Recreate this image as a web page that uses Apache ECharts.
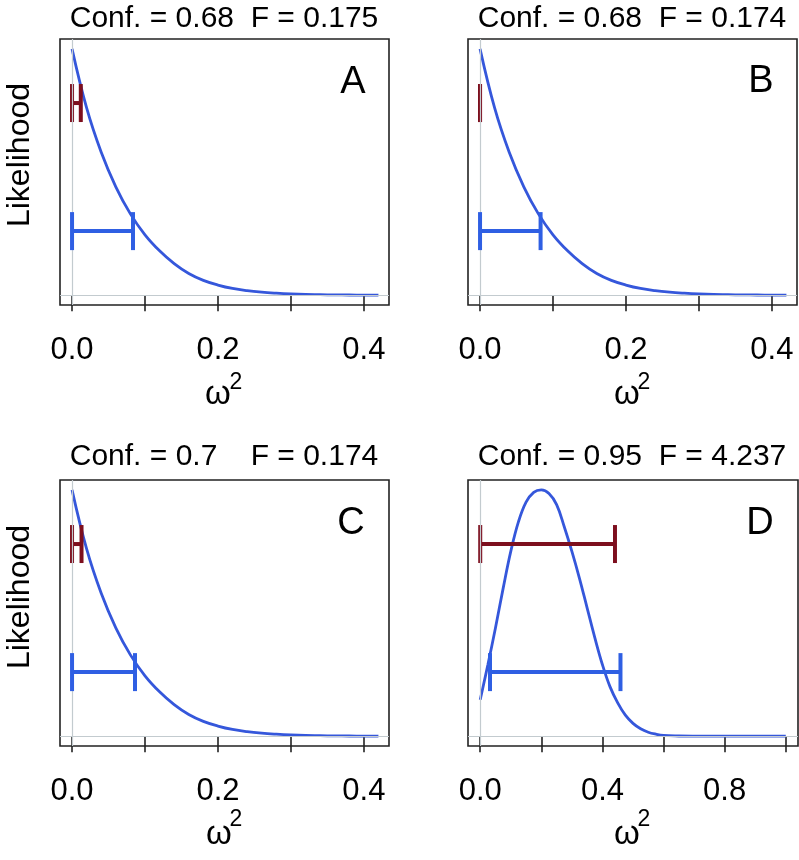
<!DOCTYPE html>
<html>
<head>
<meta charset="utf-8">
<script src="https://cdn.jsdelivr.net/npm/echarts@6/dist/echarts.min.js"></script>
<style>
html,body{margin:0;padding:0;background:#fff;}
#chart{width:799px;height:860px;}
</style>
</head>
<body>
<div id="chart"></div>
<script>
// ---- data ----
// x grid (omega^2) for panels A-C
const omegaSmall = [0,0.02,0.04,0.06,0.08,0.10,0.12,0.14,0.16,0.18,0.20,0.22,0.24,0.26,0.28,0.30,0.32,0.34,0.36,0.38,0.40,0.42];
// relative likelihood, panels A, B, C (visually identical curves)
const likeA = [1.0,0.76,0.58,0.44,0.33,0.245,0.18,0.128,0.088,0.060,0.041,0.027,0.018,0.012,0.008,0.005,0.003,0.002,0.001,0.0006,0.0003,0.0001];
const likeB = [1.0,0.76,0.58,0.44,0.33,0.245,0.18,0.128,0.088,0.060,0.041,0.027,0.018,0.012,0.008,0.005,0.003,0.002,0.001,0.0006,0.0003,0.0001];
const likeC = [1.0,0.76,0.58,0.44,0.33,0.245,0.18,0.128,0.088,0.060,0.041,0.027,0.018,0.012,0.008,0.005,0.003,0.002,0.001,0.0006,0.0003,0.0001];
// panel D
const omegaD = [0,0.025,0.05,0.075,0.1,0.125,0.15,0.175,0.2,0.225,0.25,0.275,0.3,0.325,0.35,0.375,0.4,0.425,0.45,0.475,0.5,0.525,0.55,0.575,0.6,0.65,0.7,0.8,0.9,1.0];
const likeD = [0.148,0.29,0.44,0.60,0.75,0.87,0.95,0.99,1.0,0.985,0.94,0.85,0.75,0.64,0.52,0.40,0.29,0.20,0.135,0.085,0.052,0.03,0.016,0.008,0.003,0.0007,0.0001,0,0,0];

// intervals: [low, high, height]
const redBars  = { A: [0, 0.012, 0.78], B: [0, 0, 0.78], C: [0, 0.013, 0.78], D: [0, 0.441, 0.78] };
const blueBars = { A: [0, 0.0836, 0.26], B: [0, 0.083, 0.26], C: [0, 0.0863, 0.26], D: [0.032, 0.459, 0.26] };

const titles = {
  A: 'Conf. = 0.68  F = 0.175',
  B: 'Conf. = 0.68  F = 0.174',
  C: 'Conf. = 0.7    F = 0.174',
  D: 'Conf. = 0.95  F = 4.237'
};
const ticksSmall = [0, 0.1, 0.2, 0.3, 0.4];
const labelsSmall = [0, 0.2, 0.4];
const ticksD = [0, 0.2, 0.4, 0.6, 0.8, 1.0];
const labelsD = [0, 0.4, 0.8];

// ---- chart ----
const FONT = "'Liberation Sans', Arial, Helvetica, sans-serif";
const RED = '#7d0f1e';
const BLUE = '#2f5fe3';
const CURVE = '#3557db';
const GRAY = '#c3cbcf';

const panels = ['A','B','C','D'];
const gridPos = {
  A: {left: 60, top: 39, width: 329, height: 266},
  B: {left: 468, top: 39, width: 329, height: 266},
  C: {left: 60, top: 480, width: 329, height: 266},
  D: {left: 468, top: 480, width: 330, height: 266}
};
const curves = {
  A: omegaSmall.map((x, i) => [x, likeA[i]]),
  B: omegaSmall.map((x, i) => [x, likeB[i]]),
  C: omegaSmall.map((x, i) => [x, likeC[i]]),
  D: omegaD.map((x, i) => [x, likeD[i]])
};

function barRenderer(color) {
  return function (params, api) {
    const y = api.value(2);
    const p1 = api.coord([api.value(0), y]);
    const p2 = api.coord([api.value(1), y]);
    const h = 19;
    const style = {stroke: color, lineWidth: 4, lineCap: 'butt'};
    return {type: 'group', children: [
      {type: 'line', shape: {x1: p1[0], y1: p1[1], x2: p2[0], y2: p2[1]}, style: style},
      {type: 'line', shape: {x1: p1[0], y1: p1[1] - h, x2: p1[0], y2: p1[1] + h}, style: style},
      {type: 'line', shape: {x1: p2[0], y1: p2[1] - h, x2: p2[0], y2: p2[1] + h}, style: style}
    ]};
  };
}

const grid = [], xAxis = [], yAxis = [], series = [];
panels.forEach((p, i) => {
  grid.push(Object.assign({show: true, borderColor: '#222', borderWidth: 1.6, backgroundColor: 'transparent'}, gridPos[p]));
  const isD = p === 'D';
  xAxis.push({
    type: 'value', gridIndex: i,
    min: isD ? -0.04 : -0.0165, max: isD ? 1.04 : 0.4345,
    splitLine: {show: false},
    axisLine: {show: false},
    axisTick: {show: true, inside: false, length: 16, customValues: isD ? ticksD : ticksSmall, lineStyle: {color: '#222', width: 1.6}},
    axisLabel: {show: true, customValues: isD ? labelsD : labelsSmall, margin: 30, fontSize: 31, color: '#000', fontFamily: FONT,
      formatter: v => Number(v).toFixed(1)}
  });
  yAxis.push({type: 'value', gridIndex: i, min: -0.04, max: 1.04, show: false, splitLine: {show: false}});
  series.push({
    type: 'line', xAxisIndex: i, yAxisIndex: i, data: curves[p], showSymbol: false, symbol: 'none',
    smooth: 0.4, lineStyle: {color: CURVE, width: 2.8}, z: 2, silent: true
  });
  series.push({
    type: 'custom', xAxisIndex: i, yAxisIndex: i, data: [redBars[p]],
    encode: {x: [0, 1], y: 2}, renderItem: barRenderer(RED), z: 3, silent: true
  });
  series.push({
    type: 'line', xAxisIndex: i, yAxisIndex: i, data: [], z: 4, silent: true,
    markLine: {silent: true, symbol: ['none', 'none'], label: {show: false},
      lineStyle: {color: GRAY, width: 1.2, type: 'solid'},
      emphasis: {disabled: true},
      data: [{xAxis: 0}, {yAxis: 0}]}
  });
  series.push({
    type: 'custom', xAxisIndex: i, yAxisIndex: i, data: [blueBars[p]],
    encode: {x: [0, 1], y: 2}, renderItem: barRenderer(BLUE), z: 5, silent: true
  });
});

const textBase = {fontFamily: FONT, fill: '#000', align: 'center', verticalAlign: 'middle'};
function txt(x, y, text, size, extra) {
  return Object.assign({type: 'text', x: x, y: y, style: Object.assign({}, textBase, {text: text, fontSize: size})}, extra || {});
}
const graphic = [
  txt(224, 19, titles.A, 30), txt(632, 19, titles.B, 30),
  txt(224, 457, titles.C, 30), txt(632, 457, titles.D, 30),
  txt(353, 83, 'A', 38), txt(761, 82, 'B', 38),
  txt(351, 524, 'C', 38), txt(760, 524, 'D', 38),
  txt(218, 395, 'ω', 33), txt(236, 383, '2', 23),
  txt(627, 395, 'ω', 33), txt(644, 383, '2', 23),
  txt(219, 835, 'ω', 33), txt(236, 820, '2', 23),
  txt(627, 835, 'ω', 33), txt(644, 820, '2', 23),
  txt(20.5, 155, 'Likelihood', 32, {rotation: Math.PI / 2}),
  txt(20.5, 597, 'Likelihood', 32, {rotation: Math.PI / 2})
];

const chart = echarts.init(document.getElementById('chart'), null, {renderer: 'canvas'});
chart.setOption({
  animation: false,
  backgroundColor: '#fff',
  grid: grid, xAxis: xAxis, yAxis: yAxis, series: series, graphic: graphic
});
</script>
</body>
</html>
